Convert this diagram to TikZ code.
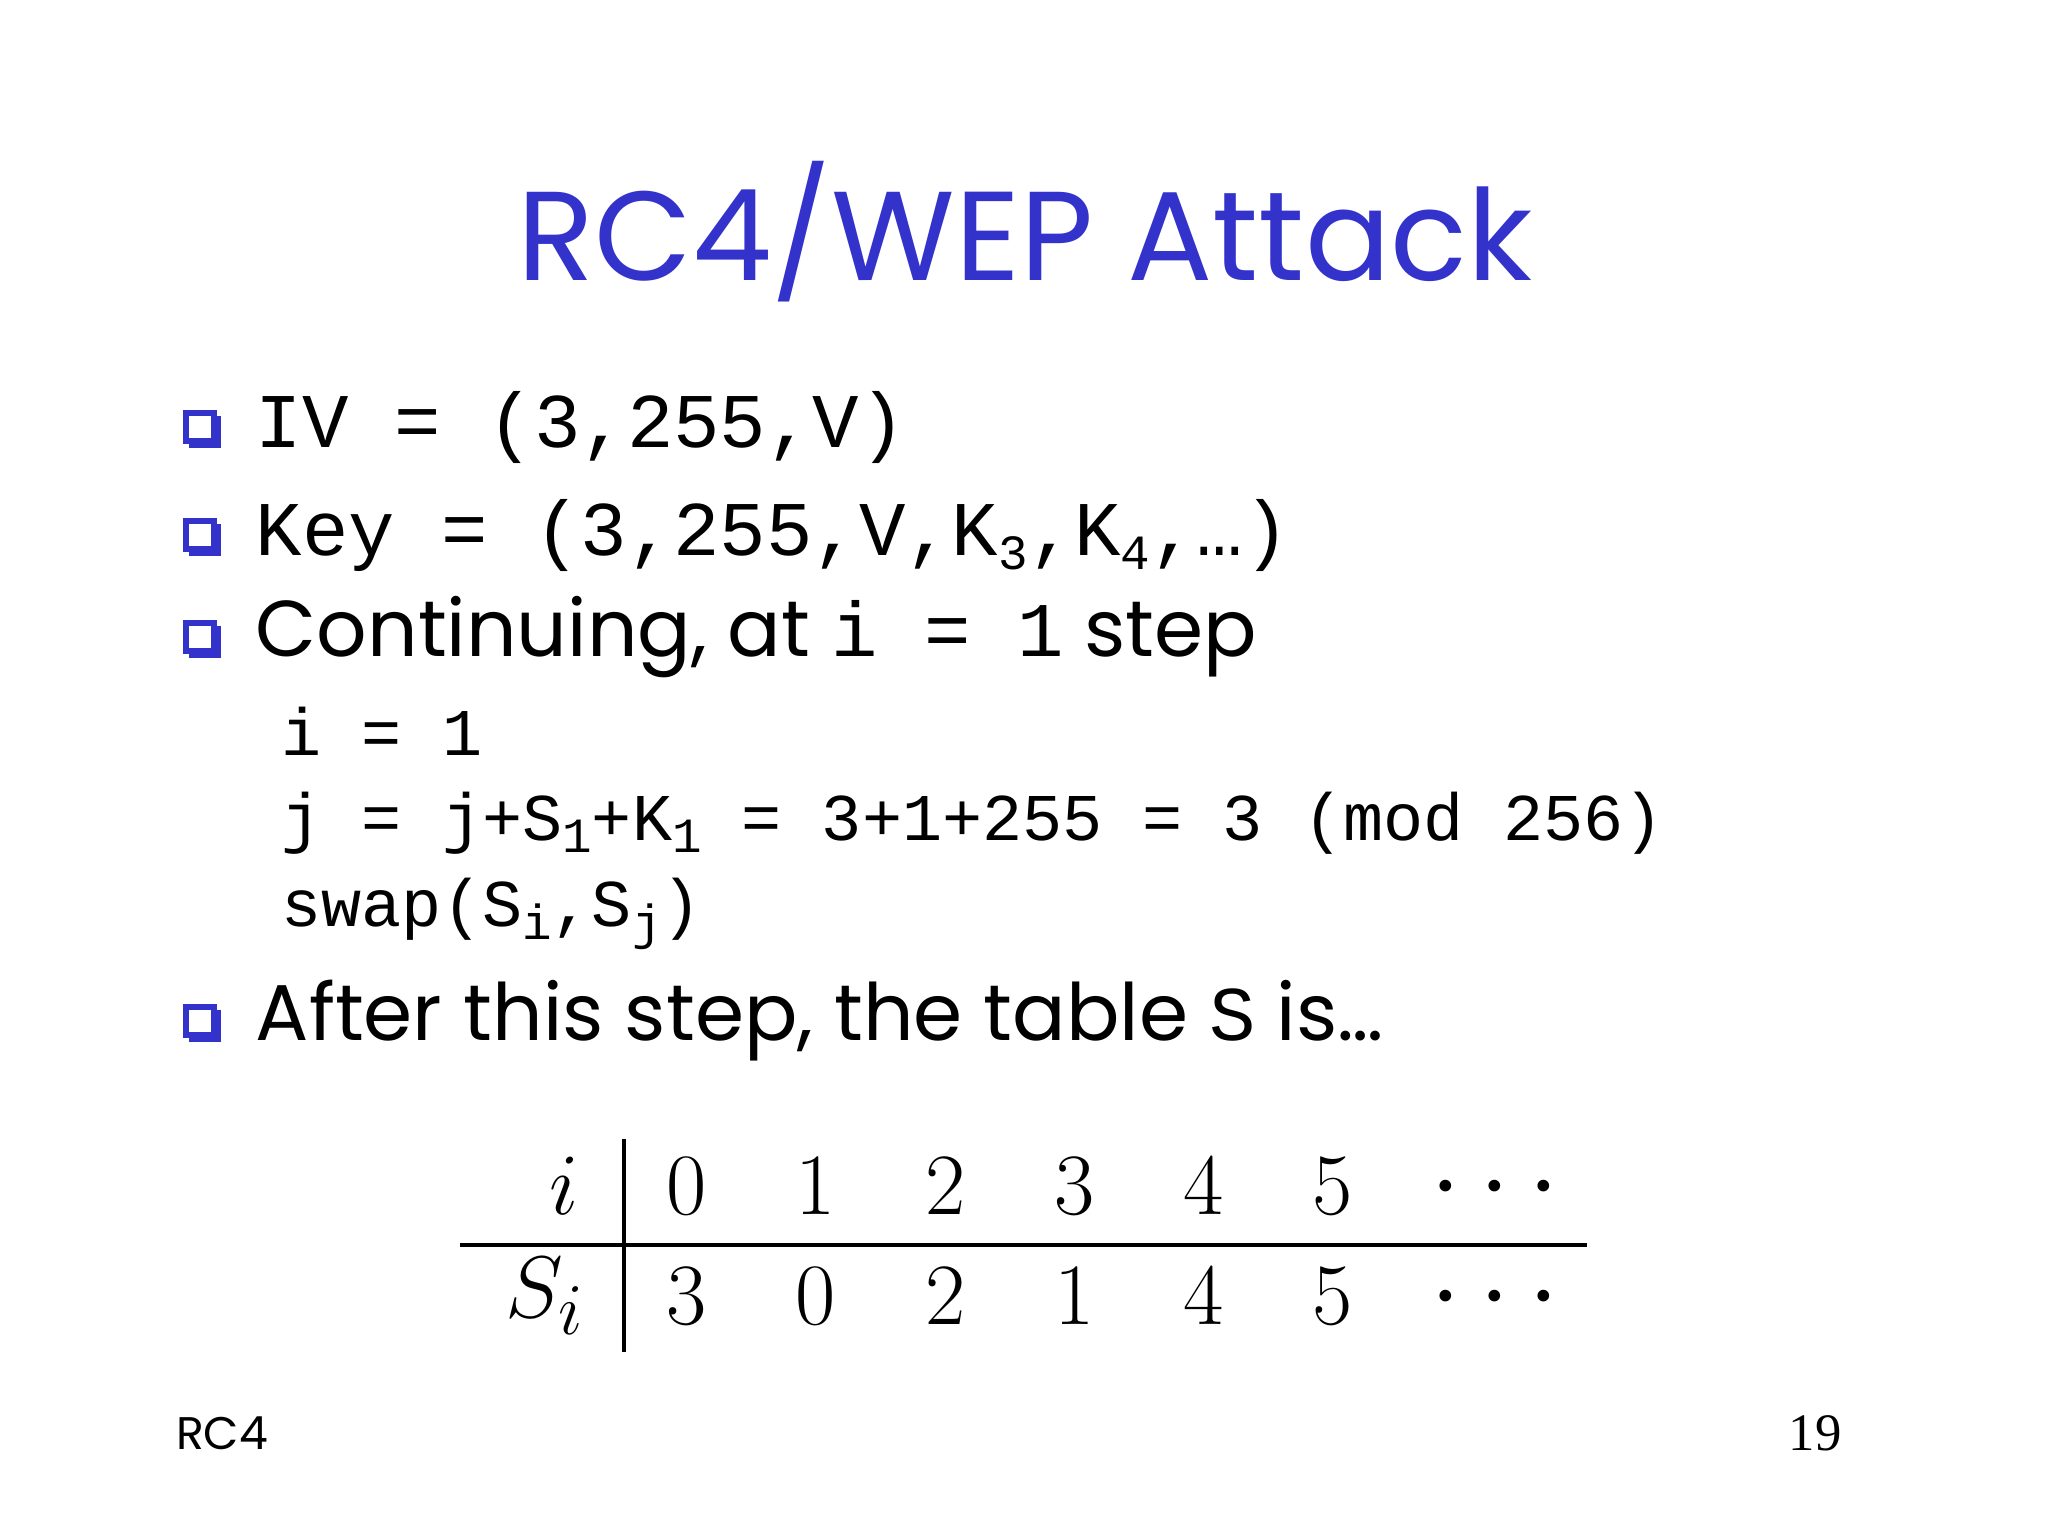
\documentclass[tikz,border=0pt]{standalone}
\usepackage{fontspec}
\setmainfont{Liberation Serif}
\newfontfamily\comic{Poppins}
\newfontfamily\mono{Liberation Mono}
\definecolor{titleblue}{RGB}{51,51,204}
\newcommand{\msub}[1]{\raisebox{-0.35ex}{\fontsize{14}{16}\selectfont #1}}
\begin{document}
\begin{tikzpicture}[x=0.01cm,y=-0.01cm,
  bul/.style={draw=titleblue,fill=white,line width=1.5pt,minimum size=0.3cm,inner sep=0pt},
  mtxt/.style={anchor=west,inner sep=0pt,font=\mono\fontsize{22}{26}\selectfont},
  stxt/.style={anchor=west,inner sep=0pt,font=\mono\fontsize{19}{23}\selectfont},
  ctxt/.style={anchor=west,inner sep=0pt,font=\comic\fontsize{22.5}{27}\selectfont},
  tbl/.style={inner sep=0pt,font=\fontsize{28}{34}\selectfont}]
\useasboundingbox (0,0) rectangle (2048,1536);
\node[font=\comic\fontsize{36}{42}\selectfont,text=titleblue] (title) at (1025,232) {RC4/WEP Attack};
\foreach \y/\n in {427/b1,535/b2,637/b3,1021/b4}{
  \fill[titleblue] (189,\y-11) rectangle ++(32,32);
  \node[bul,minimum size=0.28cm] (\n) at (200,\y) {};
}
\node[mtxt] (l1) at (255,427) {IV = (3,255,V)};
\node[mtxt] (l2) at (255,535) {Key = (3,255,V,K\msub{3},K\msub{4},…)};
\node[ctxt] (l3) at (255,637) {Continuing, at {\mono\fontsize{22}{26}\selectfont i = 1} step};
\node[stxt] (l4) at (281,731) {i = 1};
\node[stxt] (l5) at (281,823) {j = j+S\msub{1}+K\msub{1} = 3+1+255 = 3 (mod 256)};
\node[stxt] (l6) at (281,914) {swap(S\msub{i},S\msub{j})};
\node[ctxt] (l7) at (255,1021) {After this step, the table {\mono\fontsize{22}{26}\selectfont S} is…};
% table
\draw[line width=1pt] (624,1139) -- (624,1352);
\draw[line width=1pt] (460,1245) -- (1587,1245);
\node[tbl] (hi) at (564,1186) {$i$};
\node[tbl] (hs) at (545,1296) {$S_i$};
\foreach \x/\a/\b in {687/0/3,816/1/0,946/2/2,1075/3/1,1204/4/4,1333/5/5}{
  \node[tbl] at (\x,1186) {$\a$};
  \node[tbl] at (\x,1296) {$\b$};
}
\node[tbl] at (1495,1186) {.\hspace{0.25em}.\hspace{0.25em}.};
\node[tbl] at (1495,1296) {.\hspace{0.25em}.\hspace{0.25em}.};
\node[font=\comic\fontsize{13}{16}\selectfont] (foot) at (222,1433) {RC4};
\node[font=\fontsize{15}{18}\selectfont] (pg) at (1815,1433) {19};
\end{tikzpicture}
\end{document}
